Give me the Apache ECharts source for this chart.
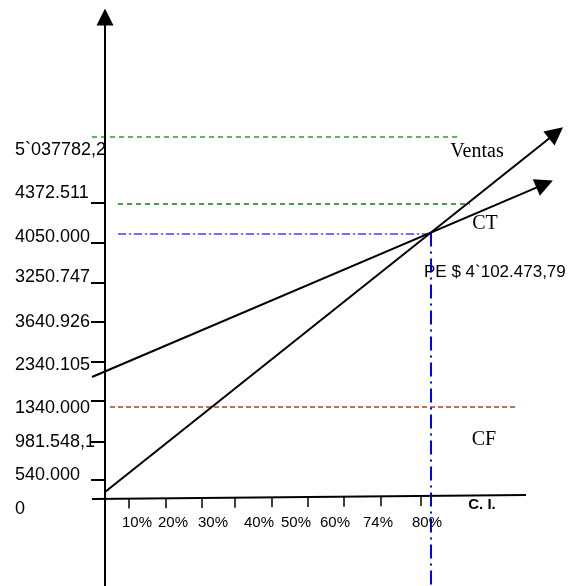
<!DOCTYPE html>
<html>
<head>
<meta charset="utf-8">
<script src="https://cdn.jsdelivr.net/npm/echarts@6/dist/echarts.min.js"></script>
<style>html,body{margin:0;padding:0;background:#fff}#c{width:578px;height:586px}</style>
</head>
<body>
<div id="c"></div>
<script>
// ---- data (chart units: x = % of installed capacity, y = amount) ----
const yLabelText = ['5`037782,2','4372.511','4050.000','3250.747','3640.926','2340.105','1340.000','981.548,1','540.000','0'];
const yLabelPos  = [5371, 4709, 4032, 3416, 2723, 2062, 1402, 879, 371, -154];
const yTickPos   = [4566, 3950, 3335, 2735, 2119, 1519, 888, 288];
const xTickPos   = [6, 15.25, 24.25, 32.5, 41.75, 50.75, 59.75, 69, 79];
const xLabelText = ['10%','20%','30%','40%','50%','60%','74%','80%'];
const xLabelPos  = [8, 17, 27, 38.5, 47.75, 57.5, 68.25, 80.5];
const ventas     = [[0, 107], [112.75, 5634]];
const costoTotal = [[-3.25, 1877], [109.9, 4847]];
const peX = 81.5, peY = 4102;
const refVentasMax = [[-3.25, 5571], [88.25, 5571]];
const refCT        = [[3.25, 4540], [91.25, 4540]];
const refPE        = [[3.25, 4078], [81.25, 4078]];
const refCF        = [[1.25, 1415], [103, 1415]];
const xAxisLine    = [[-3.25, 0], [105.25, 61]];
const yAxisLine    = [[0, -1340], [0, 7418]];
const labels = [
  {name: 'Ventas', x: 93, y: 5340},
  {name: 'CT', x: 95, y: 4231},
  {name: 'CF', x: 94.75, y: 907}
];
const peLabel = {name: 'PE $ 4`102.473,79', x: 79.75, y: 3492};
const ciLabel = {name: 'C. I.', x: 94.25, y: -93};

const SANS = 'Liberation Sans, Arial, sans-serif';
const SERIF = 'Liberation Serif, Times New Roman, serif';
const NARROW = 'Liberation Sans Narrow, Arial Narrow, Liberation Sans, sans-serif';

function axisYAt(x){
  const [a,b] = xAxisLine;
  return a[1] + (b[1]-a[1])*(x-a[0])/(b[0]-a[0]);
}
const TICK_LEN = 154; // units below axis

const series = [];
function seg(coords, style, sym, size){
  series.push({
    type: 'lines', coordinateSystem: 'cartesian2d', silent: true, z: 3,
    symbol: sym || ['none','none'], symbolSize: size || 0,
    lineStyle: Object.assign({opacity: 1, curveness: 0}, style),
    data: [{coords: coords}]
  });
}
function dline(coords, style){
  series.push({type: 'line', data: coords, symbol: 'none', silent: true, z: 2, lineStyle: style});
}

// reference dashed lines
dline(refVentasMax, {color: '#2f9a2f', width: 1.3, type: [5, 4]});
dline(refCT, {color: '#0a820a', width: 1.3, type: [5, 4]});
dline(refPE, {color: '#4040ff', width: 1.3, type: [8, 3, 2, 3]});
dline(refCF, {color: '#a8461c', width: 1.3, type: [5, 3]});
dline([[peX, peY], [peX, -1340]], {color: '#0000ff', width: 2, type: [14, 5, 2, 5]});

// axes
seg(yAxisLine, {color: '#000', width: 2}, ['none','triangle'], 17);
seg(xAxisLine, {color: '#000', width: 2});
yTickPos.forEach(v => seg([[-3.5, v], [0, v]], {color: '#000', width: 2}));
xTickPos.forEach(v => seg([[v, axisYAt(v)], [v, axisYAt(v) - TICK_LEN]], {color: '#000', width: 1.5}));

// sales & total cost lines
seg(ventas, {color: '#000', width: 2}, ['none','triangle'], 18);
seg(costoTotal, {color: '#000', width: 2}, ['none','triangle'], 18);

function textSeries(points, lbl){
  series.push({
    type: 'scatter', symbolSize: 0, silent: true, z: 5,
    data: points.map(p => ({name: p.name, value: [p.x, p.y]})),
    label: Object.assign({show: true, formatter: '{b}', color: '#000', opacity: 1}, lbl)
  });
}
textSeries(yLabelText.map((t,i) => ({name: t, x: -22.5, y: yLabelPos[i]})),
  {position: 'right', distance: 0, fontFamily: SANS, fontSize: 18, align: 'left', verticalAlign: 'middle'});
textSeries(xLabelText.map((t,i) => ({name: t, x: xLabelPos[i], y: -370})),
  {position: 'inside', fontFamily: SANS, fontSize: 15});
textSeries(labels, {position: 'inside', fontFamily: SERIF, fontSize: 20});
textSeries([peLabel], {position: 'right', distance: 0, fontFamily: NARROW, fontSize: 17, align: 'left', verticalAlign: 'middle'});
textSeries([ciLabel], {position: 'inside', fontFamily: SANS, fontSize: 15, fontWeight: 'bold'});

const chart = echarts.init(document.getElementById('c'), null, {renderer: 'canvas'});
chart.setOption({
  animation: false,
  backgroundColor: '#fff',
  grid: {left: 0, right: 0, top: 0, bottom: 0},
  xAxis: {type: 'value', min: -26.25, max: 118.25, show: false},
  yAxis: {type: 'value', min: -1340, max: 7680, show: false},
  series: series
});
</script>
</body>
</html>
